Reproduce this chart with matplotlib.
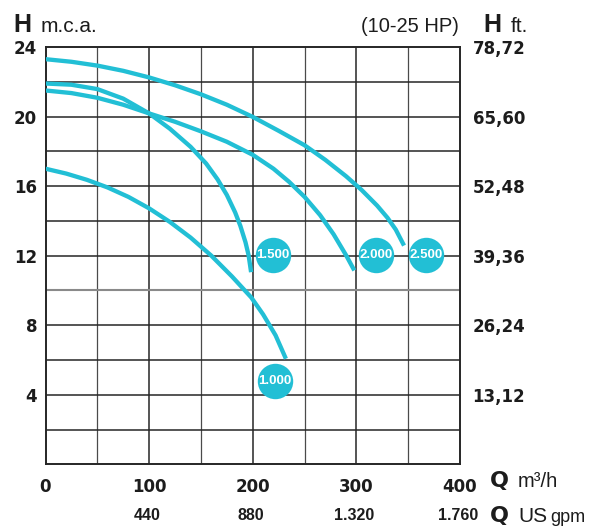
import matplotlib
matplotlib.use("Agg")
import matplotlib.pyplot as plt
from matplotlib.transforms import blended_transform_factory

# ---- data ----
q_1000 = [0, 20, 40, 60, 80, 100, 120, 140, 160, 180, 198.5, 210, 222, 232]
h_1000 = [17.0, 16.72, 16.36, 15.92, 15.38, 14.72, 13.94, 13.04, 12.0, 10.8, 9.6, 8.62, 7.42, 6.07]

q_1500 = [0, 25, 50, 75, 100, 120, 140, 155, 166, 175, 183, 188, 193, 196, 198.4]
h_1500 = [21.9, 21.83, 21.58, 21.03, 20.18, 19.3, 18.26, 17.3, 16.39, 15.49, 14.49, 13.72, 12.77, 12.02, 11.05]

q_2000 = [0, 25, 50, 75, 100, 125, 150, 175, 200, 220, 235, 250, 265, 278, 290, 298]
h_2000 = [21.5, 21.35, 21.08, 20.68, 20.18, 19.7, 19.15, 18.55, 17.8, 17.0, 16.25, 15.38, 14.33, 13.23, 12.03, 11.15]

q_2500 = [0, 25, 50, 75, 100, 125, 150, 175, 200, 225, 250, 270, 290, 305, 320, 330, 338, 346]
h_2500 = [23.3, 23.15, 22.93, 22.63, 22.25, 21.8, 21.28, 20.68, 19.98, 19.18, 18.35, 17.51, 16.57, 15.78, 14.88, 14.18, 13.5, 12.58]

badge_labels = ["1.000", "1.500", "2.000", "2.500"]
badge_q = [221.5, 219.3, 318.7, 367.3]
badge_h = [4.8, 12.05, 12.05, 12.05]

left_ticks = [4, 8, 12, 16, 20, 24]
right_labels = ["13,12", "26,24", "39,36", "52,48", "65,60", "78,72"]
bottom_ticks = [0, 100, 200, 300, 400]
gpm_ticks = [100, 200, 300, 400]
gpm_labels = ["440", "880", "1.320", "1.760"]

CYAN = "#22BFD5"
GRID = "#262626"
TXT = "#1c1c1c"

fig = plt.figure(figsize=(6.15, 5.31), dpi=100)
ax = fig.add_axes([45.5 / 615, 1 - 464.3 / 531, (460 - 45.5) / 615, (464.3 - 47) / 531])
ax.set_xlim(0, 400)
ax.set_ylim(0, 24)

# grid
for x in range(50, 400, 50):
    ax.axvline(x, color=GRID if x % 100 == 0 else "#4a4a4a", lw=1.1 if x % 100 == 0 else 0.9, zorder=1)
for y in range(2, 24, 2):
    ax.axhline(y, color="#8a8a8a" if y == 10 else GRID, lw=1.5 if y == 10 else 1.1, zorder=1)
for s in ax.spines.values():
    s.set_color(GRID)
    s.set_linewidth(1.4)

for q, h in [(q_1000, h_1000), (q_1500, h_1500), (q_2000, h_2000), (q_2500, h_2500)]:
    ax.plot(q, h, color=CYAN, lw=3.1, solid_capstyle="butt", solid_joinstyle="round", zorder=3)

ax.scatter(badge_q, badge_h, s=650, color=CYAN, zorder=4, clip_on=False, linewidths=0)
for lab, q, h in zip(badge_labels, badge_q, badge_h):
    ax.text(q, h, lab, ha="center", va="center", color="white", fontsize=9.5,
            fontweight="bold", family="Liberation Sans", zorder=5)

ax.set_xticks(bottom_ticks)
ax.set_xticklabels([str(t) for t in bottom_ticks], fontsize=12, fontweight="bold", family="DejaVu Sans")
ax.set_yticks(left_ticks)
ax.set_yticklabels([str(t) for t in left_ticks], fontsize=12, fontweight="bold", family="DejaVu Sans")
ax.tick_params(axis="both", length=0, colors=TXT)
ax.tick_params(axis="y", pad=6)
ax.tick_params(axis="x", pad=10)

ax2 = ax.twinx()
ax2.set_ylim(0, 24)
ax2.set_yticks(left_ticks)
ax2.set_yticklabels(right_labels, fontsize=12, fontweight="bold", family="DejaVu Sans")
ax2.tick_params(axis="y", length=0, pad=9, colors=TXT)
for s in ax2.spines.values():
    s.set_visible(False)

tr = blended_transform_factory(ax.transData, ax.transAxes)
for q, lab in zip(gpm_ticks, gpm_labels):
    ax.text(q - 2, -0.122, lab, transform=tr, ha="center", va="center", fontsize=11.5,
            fontweight="bold", family="Liberation Sans", color=TXT)

# header texts
def px(x, y):
    return x / 615, 1 - y / 531

fig.text(*px(13.5, 31.7), "H", fontsize=18, fontweight="bold", family="Liberation Sans", color=TXT, va="baseline")
fig.text(*px(41, 31.7), "m.c.a.", fontsize=15, family="Liberation Sans", color=TXT, va="baseline")
fig.text(*px(459, 31.7), "(10-25 HP)", fontsize=14.5, family="Liberation Sans", color=TXT, va="baseline", ha="right")
fig.text(*px(483, 31.7), "H", fontsize=18, fontweight="bold", family="Liberation Sans", color=TXT, va="baseline")
fig.text(*px(511, 31.7), "ft.", fontsize=15, family="Liberation Sans", color=TXT, va="baseline")

fig.text(*px(490, 487.3), "Q", fontsize=16, fontweight="bold", family="DejaVu Sans", color=TXT, va="baseline")
fig.text(*px(518, 487.3), "m³/h", fontsize=14.5, family="Liberation Sans", color=TXT, va="baseline")
fig.text(*px(490, 522.3), "Q", fontsize=16, fontweight="bold", family="DejaVu Sans", color=TXT, va="baseline")
fig.text(*px(518, 522.3), "US", fontsize=15, family="Liberation Sans", color=TXT, va="baseline")
fig.text(*px(550, 522.3), "gpm", fontsize=13, family="Liberation Sans", color=TXT, va="baseline")

fig.savefig("out.png", dpi=100)
